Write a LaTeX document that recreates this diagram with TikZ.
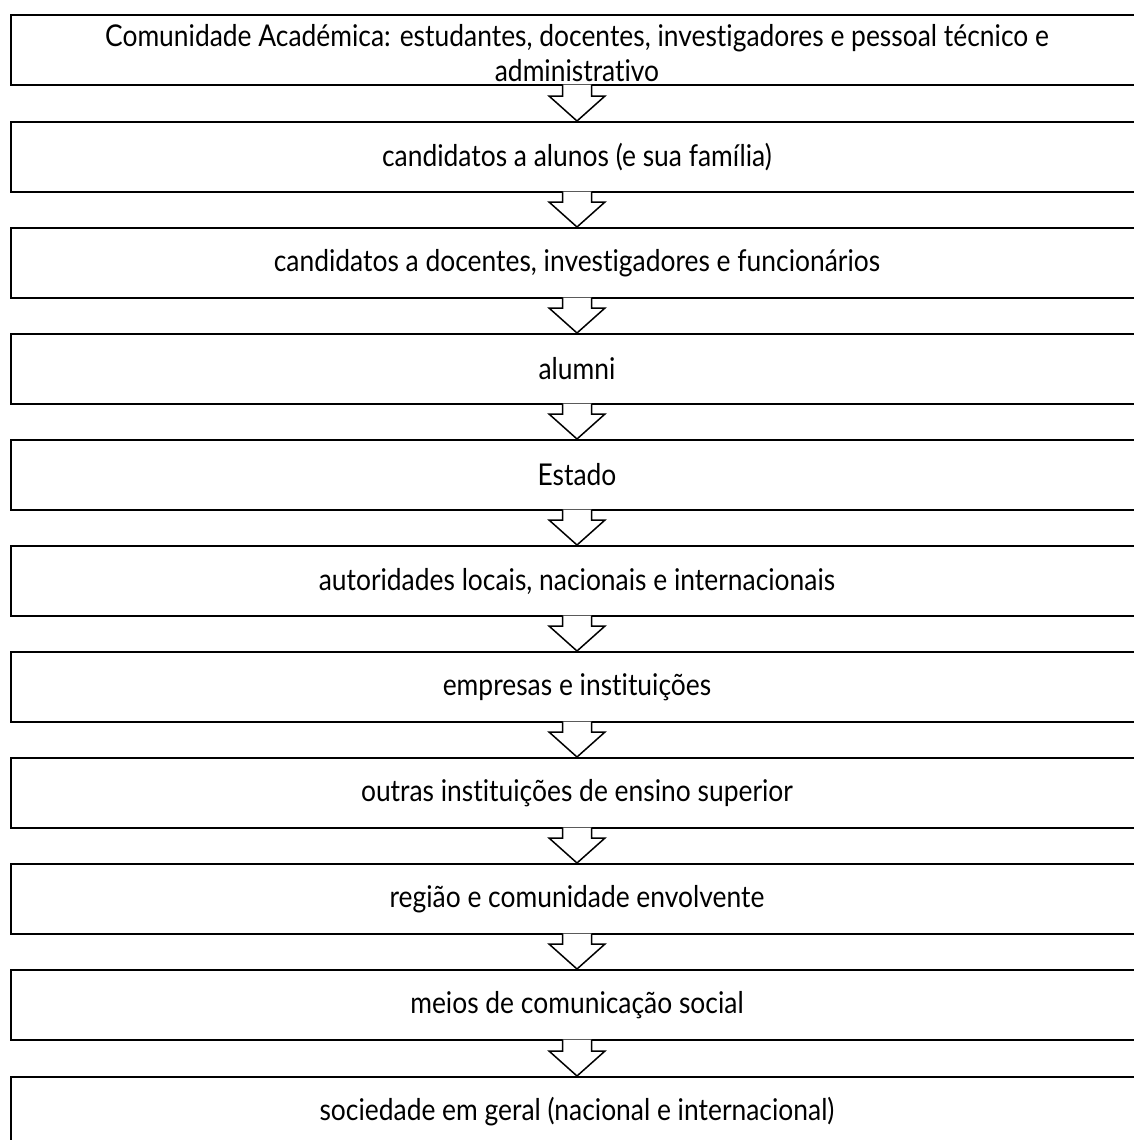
\documentclass[tikz,border=0pt]{standalone}
\usepackage{fontspec}
\setmainfont{Lato}[FakeStretch=0.88, Ligatures={NoCommon, NoRequired}]
\usetikzlibrary{calc}
\tikzset{
  label font/.style={font=\fontsize{30}{35}\selectfont},
  group/.style={draw=black, line width=2pt, fill=white, minimum width=1132pt,
    minimum height=70pt, inner sep=0pt, align=center, label font},
  flow/.style={draw=black, line width=1.5pt, fill=white, line join=miter},
}
\newcommand{\flowarrow}[2]{%
  \draw[flow] ($(#1.south)+(-14.5,-1.5)$) -- ($(#2.north)+(-14.5,-25)$)
    -- ($(#2.north)+(-28,-25)$) -- (#2.north) -- ($(#2.north)+(28,-25)$)
    -- ($(#2.north)+(14.5,-25)$) -- ($(#1.south)+(14.5,-1.5)$);}
\begin{document}
\begin{tikzpicture}[x=1pt, y=-1pt]
  \useasboundingbox (0,0) rectangle (1134,1140);
  \clip (0,0) rectangle (1134,1140);
  \fill[white] (0,0) rectangle (1134,1140);
  \node[group] (b1)  at (577,50)    {};
  \node[label font, align=center, inner sep=0pt] (t1) at (577,53.5)
    {Comunidade Académica: estudantes, docentes, investigadores e pessoal técnico e\\administrativo};
  \node[group] (b2)  at (577,157)   {candidatos a alunos (e sua família)};
  \node[group] (b3)  at (577,263)   {candidatos a docentes, investigadores e funcionários};
  \node[group] (b4)  at (577,369)   {alumni};
  \node[group] (b5)  at (577,475)   {Estado};
  \node[group] (b6)  at (577,581)   {autoridades locais, nacionais e internacionais};
  \node[group] (b7)  at (577,687)   {empresas e instituições};
  \node[group] (b8)  at (577,793)   {outras instituições de ensino superior};
  \node[group] (b9)  at (577,899)   {região e comunidade envolvente};
  \node[group] (b10) at (577,1005)  {meios de comunicação social};
  \node[group] (b11) at (577,1112)  {sociedade em geral (nacional e internacional)};
  \foreach \a/\b in {b1/b2,b2/b3,b3/b4,b4/b5,b5/b6,b6/b7,b7/b8,b8/b9,b9/b10,b10/b11}
    {\flowarrow{\a}{\b}}
\end{tikzpicture}
\end{document}
